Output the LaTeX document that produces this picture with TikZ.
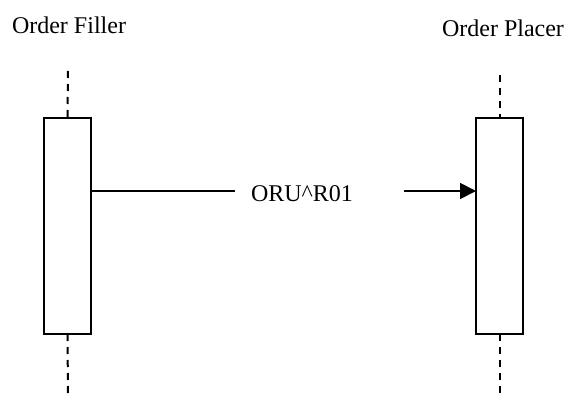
\documentclass[tikz,border=0pt]{standalone}
\usepackage{fontspec}
\setmainfont{Liberation Serif}
\usetikzlibrary{arrows.meta}
\begin{document}
\begin{tikzpicture}[x=1pt,y=-1pt,
  actbox/.style={draw, line width=1.8pt, fill=white, minimum width=47pt, minimum height=216pt, inner sep=0pt, outer sep=0pt},
  lifeline/.style={line width=2pt, dash pattern=on 7pt off 6pt},
  msgline/.style={line width=1.8pt},
  lbl/.style={font=\fontsize{24}{28}\selectfont, inner sep=0pt, anchor=base}]
\useasboundingbox (0,0) rectangle (568,396);
\node[lbl] (tf) at (69,34) {Order Filler};
\node[lbl] (tp) at (503,37) {Order Placer};
\coordinate (ftop) at (68,71);
\coordinate (fbot) at (68,396);
\coordinate (ptop) at (499.5,75);
\coordinate (pbot) at (499.5,396);
\node[actbox] (fbox) at (67.5,226) {};
\node[actbox] (pbox) at (499.5,226) {};
\draw[lifeline] (ftop) -- (fbox.north);
\draw[lifeline] (fbox.south) -- (fbot);
\draw[lifeline] (ptop) -- (pbox.north);
\draw[lifeline] (pbox.south) -- (pbot);
\node[lbl] (msg) at (302,201) {ORU\^{}R01};
\coordinate (g1) at (235,191);
\coordinate (g2) at (404,191);
\draw[msgline] (fbox.east |- g1) -- (g1);
\draw[msgline, -{Triangle[length=16pt,width=16pt]}] (g2) -- (pbox.west |- g2);
\end{tikzpicture}
\end{document}
